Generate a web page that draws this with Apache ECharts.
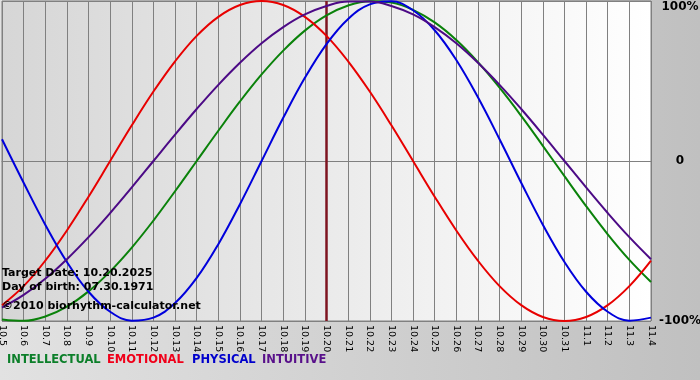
<!DOCTYPE html>
<html>
<head>
<meta charset="utf-8">
<script src="https://cdn.jsdelivr.net/npm/echarts@6/dist/echarts.min.js"></script>
<style>html,body{margin:0;padding:0;}#c{width:700px;height:380px;}</style>
</head>
<body>
<div id="c"></div>
<script>
var categories = ['10.5','10.6','10.7','10.8','10.9','10.10','10.11','10.12','10.13','10.14','10.15','10.16','10.17','10.18','10.19','10.20','10.21','10.22','10.23','10.24','10.25','10.26','10.27','10.28','10.29','10.30','10.31','11.1','11.2','11.3','11.4'];
var intellectual = [-99.0,-99.9,-97.2,-91.0,-81.5,-69.0,-54.1,-37.2,-18.9,0,18.9,37.2,54.1,69.0,81.5,91.0,97.2,99.9,99.0,94.5,86.6,75.6,61.8,45.8,28.2,9.5,-9.5,-28.2,-45.8,-61.8,-75.6];
var emotional = [-90.1,-78.2,-62.3,-43.4,-22.3,0,22.3,43.4,62.3,78.2,90.1,97.5,100,97.5,90.1,78.2,62.3,43.4,22.3,0,-22.3,-43.4,-62.3,-78.2,-90.1,-97.5,-100,-97.5,-90.1,-78.2,-62.3];
var physical = [13.6,-13.6,-39.8,-63.1,-81.7,-94.2,-99.8,-97.9,-88.8,-73.1,-52.0,-27.0,0,27.0,52.0,73.1,88.8,97.9,99.8,94.2,81.7,63.1,39.8,13.6,-13.6,-39.8,-63.1,-81.7,-94.2,-99.8,-97.9];
var intuitive = [-91.6,-83.7,-73.6,-61.4,-47.6,-32.5,-16.5,0,16.5,32.5,47.6,61.4,73.6,83.7,91.6,96.9,99.7,99.7,96.9,91.6,83.7,73.6,61.4,47.6,32.5,16.5,0,-16.5,-32.5,-47.6,-61.4];
var yTickLabels = {'-100':'-100%','0':'0','100':'100%'};
var targetDate = '10.20';
var legendNames = ['INTELLECTUAL','EMOTIONAL','PHYSICAL','INTUITIVE'];
var infoLines = ['Target Date: 10.20.2025','Day of birth: 07.30.1971','\u00a92010 biorhythm-calculator.net'];

var colors = {INTELLECTUAL:'#0a820a', EMOTIONAL:'#e80000', PHYSICAL:'#0000dc', INTUITIVE:'#4c0a86'};
var legendColors = {INTELLECTUAL:'#0c7f2a', EMOTIONAL:'#f0001a', PHYSICAL:'#0000cc', INTUITIVE:'#58108a'};
var legendX = [7, 107, 192, 262];

var chart = echarts.init(document.getElementById('c'), null, {renderer:'canvas'});
function mk(name, data){
  return {name:name, type:'line', data:data, smooth:0.4, symbol:'none',
    lineStyle:{color:colors[name], width:2}, itemStyle:{color:colors[name]}};
}
var series = [mk('INTELLECTUAL', intellectual), mk('EMOTIONAL', emotional), mk('PHYSICAL', physical), mk('INTUITIVE', intuitive)];
series[0].markLine = {silent:true, symbol:'none', label:{show:false},
  lineStyle:{color:'#7e1420', width:2.5, type:'solid'}, data:[{xAxis:targetDate}], z:1};

var graphics = [];
var infoY = [275, 289, 308];
infoLines.forEach(function(t,i){
  graphics.push({type:'text', left:2, top:infoY[i]-7, z:100,
    style:{text:t, fill:'#000', font:'bold 11px "DejaVu Sans"'}});
});
legendNames.forEach(function(n,i){
  graphics.push({type:'text', left:legendX[i], top:354, z:100,
    style:{text:n, fill:legendColors[n], font:'bold 11.5px "DejaVu Sans"'}});
});

chart.setOption({
  animation:false,
  backgroundColor:new echarts.graphic.LinearGradient(0,0,1,0,[{offset:0,color:'#e2e2e2'},{offset:1,color:'#c0c0c0'}]),
  grid:{left:2, right:49, top:1, bottom:59, show:true, containLabel:false, outerBoundsMode:'none',
    backgroundColor:new echarts.graphic.LinearGradient(0,0,1,0,[{offset:0,color:'#d6d6d6'},{offset:1,color:'#ffffff'}]),
    borderColor:'#808080', borderWidth:1},
  xAxis:{type:'category', data:categories, boundaryGap:false,
    axisLine:{lineStyle:{color:'#808080', width:1}},
    axisTick:{show:true, interval:0, length:5, lineStyle:{color:'#808080'}},
    splitLine:{show:true, interval:0, lineStyle:{color:'#808080', width:1}},
    axisLabel:{interval:0, rotate:-90, margin:4, color:'#000', fontSize:9.5, fontFamily:'DejaVu Sans'}},
  yAxis:{type:'value', position:'right', min:-100, max:100, interval:100,
    axisLine:{show:false}, axisTick:{show:false},
    splitLine:{show:true, lineStyle:{color:'#808080', width:1}},
    axisLabel:{formatter:function(v){return yTickLabels[String(v)];}, color:'#000', fontSize:12, fontWeight:'bold',
      fontFamily:'DejaVu Sans', align:'center', margin:29, verticalAlignMaxLabel:'top'}},
  series:series,
  graphic:graphics
});
</script>
</body>
</html>
